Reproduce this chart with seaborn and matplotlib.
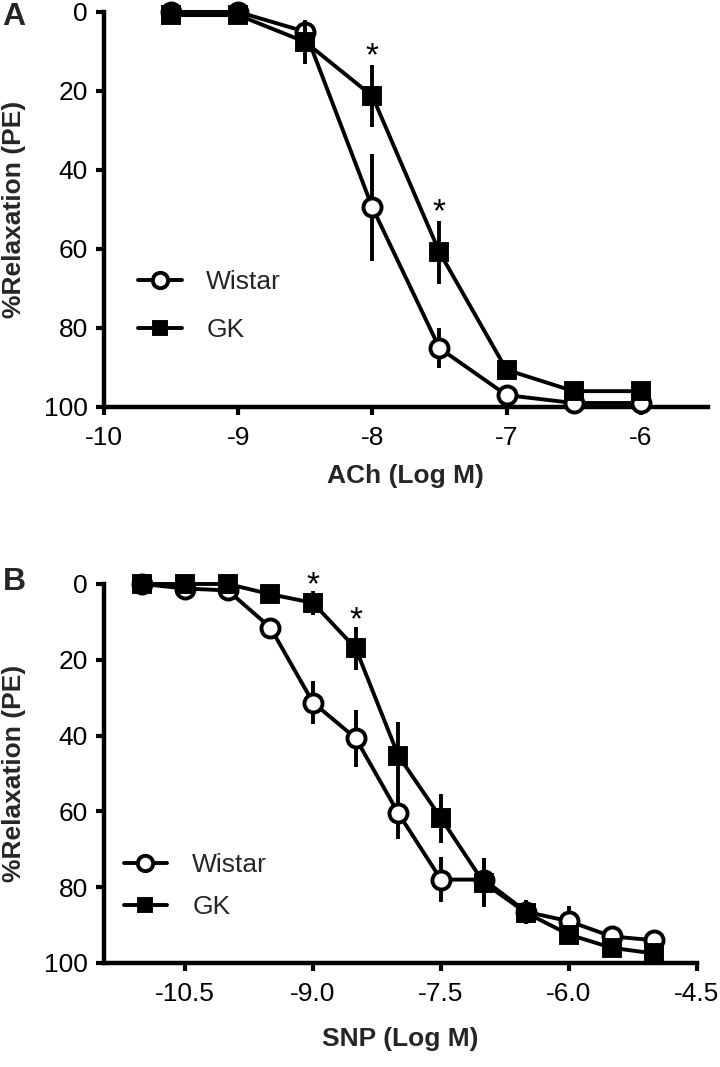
import numpy as np
import pandas as pd
import matplotlib
matplotlib.use("Agg")
import matplotlib.pyplot as plt
import seaborn as sns

sns.set_style("ticks")
plt.rcParams['font.family'] = ['Liberation Sans', 'DejaVu Sans']

# ---------------- data ----------------
# Panel A: ACh
ach_x = [-9.5, -9.0, -8.5, -8.0, -7.5, -7.0, -6.5, -6.0]
ach_wistar = [0.0, 0.0, 5.0, 49.5, 85.1, 97.0, 99.0, 99.0]
ach_wistar_err = [1.0, 1.0, 2.0, 13.6, 5.0, 1.5, 1.0, 1.0]
ach_gk = [0.8, 0.8, 7.6, 21.3, 60.8, 90.6, 96.0, 96.0]
ach_gk_err = [1.0, 1.0, 5.5, 7.8, 8.0, 2.0, 1.0, 1.0]
ach_sig_x = [-8.0, -7.5]
ach_sig_y = [13.5, 53.0]

# Panel B: SNP
snp_x = [-11.0, -10.5, -10.0, -9.5, -9.0, -8.5, -8.0, -7.5, -7.0, -6.5, -6.0, -5.5, -5.0]
snp_wistar = [0.0, 1.2, 1.7, 11.5, 31.3, 40.7, 60.5, 78.0, 78.0, 86.5, 89.0, 93.0, 94.0]
snp_wistar_err = [1.0, 1.0, 1.0, 2.0, 5.7, 7.5, 6.8, 6.0, 5.6, 3.0, 4.0, 2.5, 2.5]
snp_gk = [0.0, 0.0, 0.0, 2.7, 5.0, 17.0, 45.3, 61.8, 78.8, 86.8, 92.5, 96.0, 97.5]
snp_gk_err = [1.0, 1.0, 1.0, 1.0, 3.1, 5.6, 8.8, 6.5, 6.5, 3.0, 1.5, 1.5, 1.5]
snp_sig_x = [-9.0, -8.5]
snp_sig_y = [2.7, 12.0]

ach_xticks = [-10, -9, -8, -7, -6]
snp_xticks = [-10.5, -9.0, -7.5, -6.0, -4.5]
yticks = [0, 20, 40, 60, 80, 100]

# ---------------- style ----------------
FS = 19
LW = 2.8
MEW = 2.8
MS_C = 13.0
MS_S = 11.0

fig = plt.figure(figsize=(7.2, 10.67), dpi=100)
axA = fig.add_axes([0.1445, 0.6186, 0.8385, 0.3702])
axB = fig.add_axes([0.1445, 0.0975, 0.8235, 0.3552])


def draw(ax, x, w, we, g, ge):
    ax.errorbar(x, w, yerr=we, fmt='none', ecolor='black', elinewidth=LW,
                capsize=0, zorder=2, clip_on=False)
    sns.lineplot(x=x, y=w, ax=ax, color='black', linewidth=LW, marker='o',
                 markersize=MS_C, markerfacecolor='white', markeredgecolor='black',
                 markeredgewidth=MEW, errorbar=None, zorder=3, clip_on=False)
    ax.errorbar(x, g, yerr=ge, fmt='none', ecolor='black', elinewidth=LW,
                capsize=0, zorder=4, clip_on=False)
    sns.lineplot(x=x, y=g, ax=ax, color='black', linewidth=LW, marker='s',
                 markersize=MS_S, markerfacecolor='black', markeredgecolor='black',
                 markeredgewidth=MEW, errorbar=None, zorder=5, clip_on=False)
    lines = ax.get_lines()
    return lines[-2], lines[-1]


def style(ax, xlim, xticks, fmt):
    ax.set_xlim(*xlim)
    ax.set_ylim(100, 0)
    ax.set_xticks(xticks)
    ax.set_xticklabels([fmt(t) for t in xticks])
    ax.set_yticks(yticks)
    ax.set_yticklabels([str(t) for t in yticks])
    for s in ['top', 'right']:
        ax.spines[s].set_visible(False)
    for s in ['left', 'bottom']:
        ax.spines[s].set_linewidth(3.2)
        ax.spines[s].set_color('black')
        ax.spines[s].set_capstyle('projecting')
    ax.tick_params(axis='both', length=6, width=3.0, labelsize=FS, colors='black')
    ax.tick_params(axis='x', pad=7.5)
    ax.tick_params(axis='y', pad=5.5)
    ax.set_facecolor('white')


# Panel A
hw, hg = draw(axA, ach_x, ach_wistar, ach_wistar_err, ach_gk, ach_gk_err)
style(axA, (-10, -5.5), ach_xticks, lambda t: f"{t:d}")
for sx, sy in zip(ach_sig_x, ach_sig_y):
    axA.text(sx, sy, '*', fontsize=24, ha='center', va='baseline', color='black')
axA.set_xlabel('ACh (Log M)', fontsize=FS, fontweight='bold')
axA.set_ylabel('%Relaxation (PE)', fontsize=FS, fontweight='bold')
axA.xaxis.set_label_coords(0.5, -0.144)
axA.yaxis.set_label_coords(-0.13, 0.5)
axA.legend([hw, hg], ['Wistar', 'GK'], loc='center left',
           bbox_to_anchor=(-9.75, 74.5), bbox_transform=axA.transData,
           frameon=False, fontsize=FS, handlelength=1.7, handletextpad=0.9,
           labelspacing=0.89, borderpad=0, borderaxespad=0, markerscale=0.85)

# Panel B
hw2, hg2 = draw(axB, snp_x, snp_wistar, snp_wistar_err, snp_gk, snp_gk_err)
style(axB, (-11.45, -4.5), snp_xticks, lambda t: f"{t:.1f}")
for sx, sy in zip(snp_sig_x, snp_sig_y):
    axB.text(sx, sy, '*', fontsize=24, ha='center', va='baseline', color='black')
axB.set_xlabel('SNP (Log M)', fontsize=FS, fontweight='bold')
axB.set_ylabel('%Relaxation (PE)', fontsize=FS, fontweight='bold')
axB.xaxis.set_label_coords(0.5, -0.169)
axB.yaxis.set_label_coords(-0.132, 0.5)
axB.legend([hw2, hg2], ['Wistar', 'GK'], loc='center left',
           bbox_to_anchor=(-11.22, 79.7), bbox_transform=axB.transData,
           frameon=False, fontsize=FS, handlelength=1.65, handletextpad=0.95,
           labelspacing=0.66, borderpad=0, borderaxespad=0, markerscale=0.85)

fig.text(14 / 720, 1 - 17 / 1067, 'A', fontsize=23, fontweight='bold', ha='center', va='center')
fig.text(14 / 720, 1 - 582 / 1067, 'B', fontsize=23, fontweight='bold', ha='center', va='center')

fig.savefig('out.png', dpi=100, facecolor='white')
